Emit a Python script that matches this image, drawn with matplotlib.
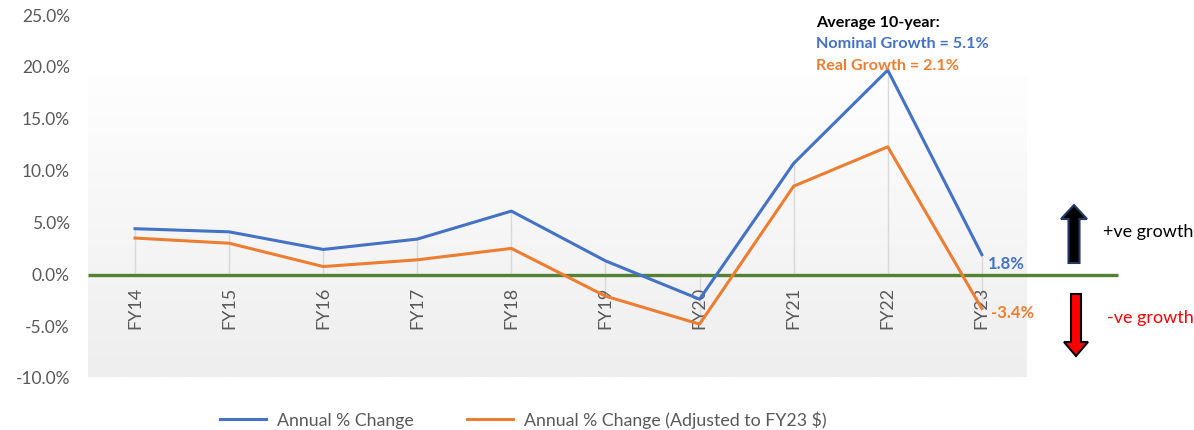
import numpy as np
import matplotlib
matplotlib.use("Agg")
import matplotlib.pyplot as plt
from matplotlib.patches import FancyArrow
from matplotlib.lines import Line2D

plt.rcParams['font.family'] = ['Lato', 'DejaVu Sans']

# ── data ──────────────────────────────────────────────────────────────────────
years = ["FY14", "FY15", "FY16", "FY17", "FY18", "FY19", "FY20", "FY21", "FY22", "FY23"]
nominal = [4.3, 4.0, 2.3, 3.3, 6.0, 1.2, -2.5, 10.6, 19.6, 1.8]
real = [3.4, 2.9, 0.65, 1.3, 2.4, -2.2, -4.9, 8.4, 12.2, -3.4]
y_ticks = [-10, -5, 0, 5, 10, 15, 20, 25]

BLUE = "#4472C4"
ORANGE = "#ED7D31"
GREEN = "#548235"
GREY = "#595959"

fig = plt.figure(figsize=(11.94, 4.31), dpi=100)
ax = fig.add_axes([0.0737, 0.123, 0.788, 0.842])
x = np.arange(len(years))

ax.set_xlim(-0.5, 9.5)
ax.set_ylim(-10, 25)

# plot-area gradient fill
grad = np.linspace(0, 1, 256).reshape(-1, 1)
ax.imshow(grad, cmap=matplotlib.colors.LinearSegmentedColormap.from_list(
    "g", ["#fefefe", "#eeeeee"]), extent=[-0.5, 9.47, -10, 19],
    aspect="auto", origin="upper", zorder=0)

# drop lines
lo = np.minimum(0, np.minimum(nominal, real))
hi = np.maximum(0, np.maximum(nominal, real))
ax.vlines(x, lo, hi, color="#d9d9d9", lw=1.0, zorder=1)

# zero line
ax.plot([-0.5, 10.45], [-0.15, -0.15], color=GREEN, lw=2.4, zorder=2,
        clip_on=False, solid_capstyle="butt")

ax.plot(x, nominal, color=BLUE, lw=2.2, zorder=3, label="Annual % Change")
ax.plot(x, real, color=ORANGE, lw=2.2, zorder=3,
        label="Annual % Change (Adjusted to FY23 $)")

# axes styling
for s in ax.spines.values():
    s.set_visible(False)
ax.spines['bottom'].set_position(('data', 0))
ax.set_xticks(x)
ax.set_xticklabels(years, rotation=90, color=GREY, fontsize=13)
ax.tick_params(axis="x", length=0, pad=9)
ax.set_yticks(y_ticks)
ax.set_yticklabels([f"{v:.1f}%" for v in y_ticks], color=GREY, fontsize=12.5)
ax.tick_params(axis="y", length=0, pad=13)

# end labels
ax.text(9.06, 1.0, "1.8%", color=BLUE, fontsize=12, fontweight="bold",
        va="center", ha="left")
ax.text(9.1, -3.7, "-3.4%", color=ORANGE, fontsize=12, fontweight="bold",
        va="center", ha="left")

# average note
ax.text(7.24, 24.2, "Average 10-year:", color="black", fontsize=11.6,
        fontweight="bold", va="center", ha="left")
ax.text(7.24, 22.2, "Nominal Growth = 5.1%", color=BLUE, fontsize=11.6,
        fontweight="bold", va="center", ha="left")
ax.text(7.24, 20.1, "Real Growth = 2.1%", color=ORANGE, fontsize=11.6,
        fontweight="bold", va="center", ha="left")

# growth arrows (figure coords)
up = FancyArrow(1074 / 1194, (431 - 264) / 431, 0, 58 / 431, width=11 / 1194,
                head_width=26 / 1194, head_length=14 / 431,
                length_includes_head=True, transform=fig.transFigure,
                facecolor="black", edgecolor="#1F3864", lw=1.5)
down = FancyArrow(1076 / 1194, (431 - 295) / 431, 0, -62 / 431, width=10 / 1194,
                  head_width=24 / 1194, head_length=14 / 431,
                  length_includes_head=True, transform=fig.transFigure,
                  facecolor="#FF0000", edgecolor="black", lw=1.5)
fig.patches.extend([up, down])
fig.text(1103 / 1194, (431 - 232) / 431, "+ve growth", color="black",
         fontsize=13, va="center", ha="left")
fig.text(1107 / 1194, (431 - 318) / 431, "-ve growth", color="#FF0000",
         fontsize=13, va="center", ha="left")

# legend
handles = [Line2D([], [], color=BLUE, lw=2.2), Line2D([], [], color=ORANGE, lw=2.2)]
fig.legend(handles, ["Annual % Change", "Annual % Change (Adjusted to FY23 $)"],
           loc="center", bbox_to_anchor=(523 / 1194, 1 - 420 / 431), ncol=2,
           frameon=False, fontsize=12.8, labelcolor=GREY, handlelength=2.6,
           handletextpad=0.6, columnspacing=3.0)

fig.savefig("out.png", dpi=100)
